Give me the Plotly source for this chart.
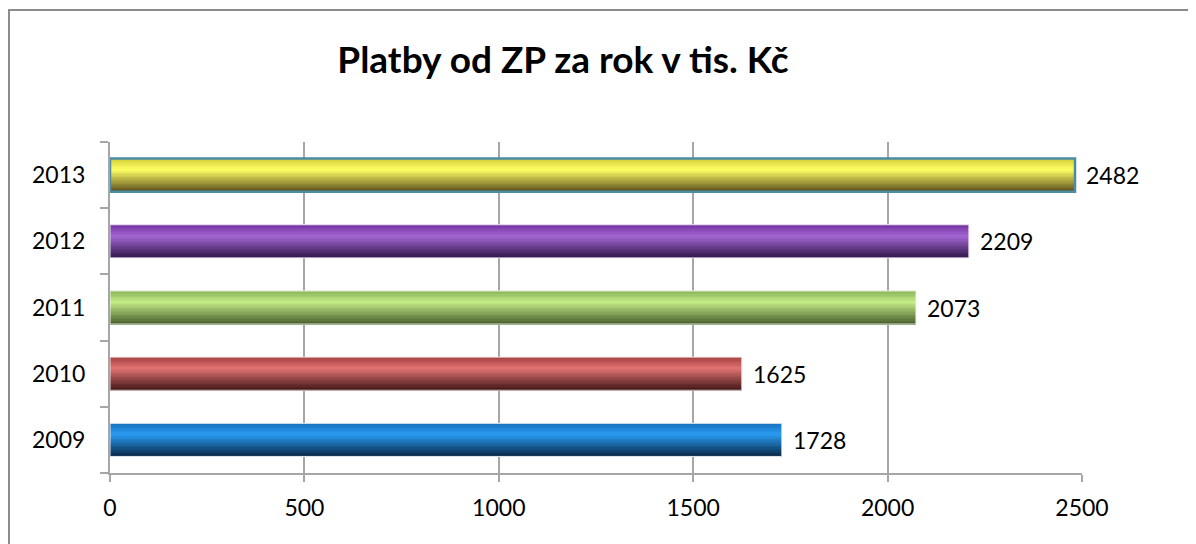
import plotly.graph_objects as go

years = ["2009", "2010", "2011", "2012", "2013"]
values = [1728, 1625, 2073, 2209, 2482]
x_ticks = [0, 500, 1000, 1500, 2000, 2500]
title = "Platby od ZP za rok v tis. Kč"

# gradient stops per bar: (top, highlight, bottom)
grad = {
    "2009": ["#1a74c0", "#2a9cf2", "#06223f"],
    "2010": ["#a84444", "#e27272", "#3a1414"],
    "2011": ["#8cb45c", "#c4ec86", "#44582a"],
    "2012": ["#7634a0", "#a466d4", "#2c1444"],
    "2013": ["#d4d43a", "#ffff64", "#56481a"],
}
outline = {"2009": "#e8eef4", "2010": "#f0e0e0", "2011": "#eef4e6",
           "2012": "#ece4f2", "2013": "#4a8ca4"}

def hex2rgb(h):
    h = h.lstrip("#")
    return [int(h[i:i + 2], 16) for i in (0, 2, 4)]

def mix(a, b, f):
    a, b = hex2rgb(a), hex2rgb(b)
    return "rgb(%d,%d,%d)" % tuple(round(a[k] + (b[k] - a[k]) * f) for k in range(3))

def color_at(stops, t):
    hi = 0.32
    if t <= hi:
        return mix(stops[0], stops[1], t / hi)
    return mix(stops[1], stops[2], (t - hi) / (1 - hi))

# page has an 8px body margin; figure pixel = page pixel - 8
W, H = 1188, 536
PL, PR, PT, PB = 102, 1074, 134, 465  # plot area in figure pixels

BW = 0.5
N = 24
fig = go.Figure()
sw = BW / N
for i in range(N):
    t = 1 - (i + 0.5) / N
    fig.add_trace(go.Bar(
        x=values, y=years, orientation="h",
        width=sw * 1.15, offset=-BW / 2 + i * sw - (sw * 0.075 if i else 0),
        marker=dict(color=[color_at(grad[y], t) for y in years], line=dict(width=0)),
        hoverinfo="skip", showlegend=False,
    ))

fig.add_trace(go.Bar(
    x=values, y=years, orientation="h", width=BW,
    marker=dict(color="rgba(0,0,0,0)",
                line=dict(color=[outline[y] for y in years],
                          width=[1, 1, 1, 1, 2.5])),
    cliponaxis=False, showlegend=False,
))

# category axis: annotation y given as category index
annotations = [dict(x=v, y=idx, xref="x", yref="y", text=str(v), showarrow=False,
                    xanchor="left", yanchor="middle", xshift=9,
                    font=dict(family="Lato", size=23, color="black"))
               for idx, v in enumerate(values)]

pw, ph = PR - PL, PB - PT
fig.update_layout(
    width=W, height=H,
    margin=dict(l=PL, r=W - PR, t=PT, b=H - PB),
    paper_bgcolor="white", plot_bgcolor="white",
    barmode="overlay",
    font=dict(family="Lato", size=23, color="black"),
    title=dict(text="<b>" + title + "</b>", x=555 / W, xanchor="center", xref="container",
               y=1 - 52 / H, yanchor="middle", yref="container",
               font=dict(family="Lato", size=37, color="black")),
    xaxis=dict(range=[0, 2500], tickvals=x_ticks, showgrid=True, gridcolor="#a6a6a6",
               gridwidth=2, showline=True, linecolor="#a6a6a6", linewidth=2,
               ticks="outside", ticklen=7, tickcolor="#a6a6a6", tickwidth=2,
               zeroline=False, tickfont=dict(family="Lato", size=23),
               ticklabelstandoff=6),
    yaxis=dict(type="category", categoryorder="array", categoryarray=years,
               range=[-0.5, 4.5], showline=True, linecolor="#a6a6a6", linewidth=2,
               ticks="outside", ticklen=8, tickcolor="#a6a6a6", tickwidth=2,
               tickson="boundaries", showgrid=False,
               tickfont=dict(family="Lato", size=23), ticklabelstandoff=18),
    annotations=annotations,
    shapes=[dict(type="rect", xref="paper", yref="paper",
                 x0=(1 - PL) / pw, x1=(W + 10 - PL) / pw,
                 y0=(PB - H - 10) / ph, y1=(PB - 2) / ph,
                 line=dict(color="#8c8c8c", width=2), fillcolor="rgba(0,0,0,0)",
                 layer="below")],
)

fig.write_html("out.html")
